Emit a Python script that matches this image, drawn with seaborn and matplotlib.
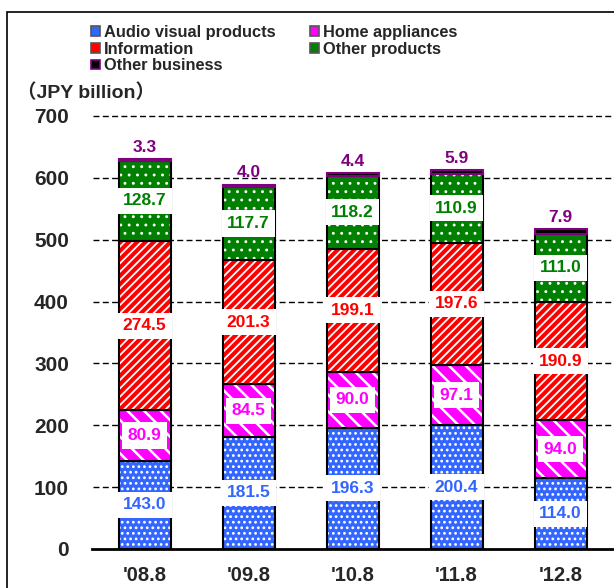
import matplotlib
matplotlib.use("Agg")
import matplotlib.pyplot as plt
from matplotlib.patches import Rectangle
import numpy as np
import pandas as pd
import seaborn as sns

# Net sales by segment (JPY billion)
periods = ["'08.8", "'09.8", "'10.8", "'11.8", "'12.8"]
audio_visual = [143.0, 181.5, 196.3, 200.4, 114.0]
home_appliances = [80.9, 84.5, 90.0, 97.1, 94.0]
information = [274.5, 201.3, 199.1, 197.6, 190.9]
other_products = [128.7, 117.7, 118.2, 110.9, 111.0]
other_business = [3.3, 4.0, 4.4, 5.9, 7.9]
y_ticks = [0, 100, 200, 300, 400, 500, 600, 700]

sns.set_theme(style="white")
plt.rcParams["font.family"] = ["Liberation Sans", "DejaVu Sans"]
plt.rcParams["font.weight"] = "bold"
plt.rcParams["hatch.linewidth"] = 1.5

segments = [
    # name, values, face, hatch, hatch width, label colour
    ("Audio visual products", audio_visual, "#3366FF", "...", 1.2, "#3366FF"),
    ("Home appliances", home_appliances, "#FF00FF", "\\\\", 1.8, "#FF00FF"),
    ("Information", information, "#FF0000", "////", 1.3, "#FF0000"),
    ("Other products", other_products, "#008000", "..", 0.9, "#008000"),
    ("Other business", other_business, "#000000", None, 0, "#800080"),
]

fig = plt.figure(figsize=(6.14, 5.88), dpi=100)
W, H = 614, 588
ax = fig.add_axes([92.5 / W, 39 / H, 520 / W, (549 - 112.9) / H])

# dashed reference lines behind the bars
for t in y_ticks[1:]:
    ax.axhline(t, color="black", lw=1.0, ls=(0, (4.3, 2.4)), zorder=0.5)

bottom = np.zeros(len(periods))
for name, vals, face, hatch, hlw, lab_col in segments:
    df = pd.DataFrame({"period": periods, "value": vals})
    if hatch:
        n_before = len(ax.patches)
        sns.barplot(data=df, x="period", y="value", order=periods, color=face,
                    bottom=bottom, width=0.5, errorbar=None, ax=ax,
                    edgecolor="white", hatch=hatch, linewidth=0, saturation=1)
        for p in ax.patches[n_before:]:
            if hasattr(p, "set_hatch_linewidth"):
                p.set_hatch_linewidth(hlw)
        sns.barplot(data=df, x="period", y="value", order=periods, color="black",
                    fill=False, bottom=bottom, width=0.5, errorbar=None, ax=ax,
                    linewidth=1.5, saturation=1)
        for i, v in enumerate(vals):
            ax.text(i, bottom[i] + v / 2, f"{v:.1f}", ha="center", va="center",
                    color=lab_col, fontsize=12.5, fontweight="bold", zorder=6,
                    bbox=dict(boxstyle="square,pad=0.32", fc="white", ec="none"))
    else:
        sns.barplot(data=df, x="period", y="value", order=periods, color=face,
                    bottom=bottom, width=0.5, errorbar=None, ax=ax,
                    edgecolor=lab_col, linewidth=1.5, saturation=1)
        for i, v in enumerate(vals):
            ax.annotate(f"{v:.1f}", (i, bottom[i] + v), xytext=(0, 3),
                        textcoords="offset points", ha="center", va="bottom",
                        color=lab_col, fontsize=12.5, fontweight="bold", zorder=6)
    bottom = bottom + np.array(vals)

ax.set_xlim(-0.5, 4.5)
ax.set_ylim(0, 705)
ax.set_yticks(y_ticks)
ax.set_yticklabels([str(t) for t in y_ticks])
ax.set_xlabel("")
ax.set_ylabel("")
ax.tick_params(axis="y", length=0, pad=17, labelsize=15)
ax.tick_params(axis="x", length=0, pad=12, labelsize=14.5)
for lab in ax.get_xticklabels() + ax.get_yticklabels():
    lab.set_fontweight("bold")
for s in ["left", "right", "top"]:
    ax.spines[s].set_visible(False)
ax.spines["bottom"].set_color("black")
ax.spines["bottom"].set_linewidth(2)
ax.spines["bottom"].set_zorder(7)
ax.set_facecolor("none")

# unit label
fig.text(17 / W, 1 - 93 / H, "（JPY billion）", ha="left", va="center",
         fontsize=14, fontweight="bold",
         family=["Liberation Sans", "Noto Sans CJK JP", "DejaVu Sans"])

# legend
order = [0, 2, 4, 1, 3]
handles = []
for k in order:
    face = segments[k][2]
    ec = "#800080" if k == 4 else "#555555"
    handles.append(Rectangle((0, 0), 1, 1, fc=face, ec=ec, lw=1.2))
fig.legend(handles, [segments[k][0] for k in order], ncol=2, frameon=False,
           loc="upper left", bbox_to_anchor=(91 / W, 1 - 25 / H),
           prop=dict(size=11.8, weight="bold"),
           handlelength=0.55, handleheight=0.55,
           handletextpad=0.25, labelspacing=0.1, columnspacing=2.1,
           borderpad=0, borderaxespad=0)

# outer frame
fig.patches.append(Rectangle((7 / W, -0.1), 1.2, 1 - 12 / H + 0.1,
                             transform=fig.transFigure, fill=False,
                             ec="black", lw=1.2))

fig.savefig("out.png", dpi=100)
